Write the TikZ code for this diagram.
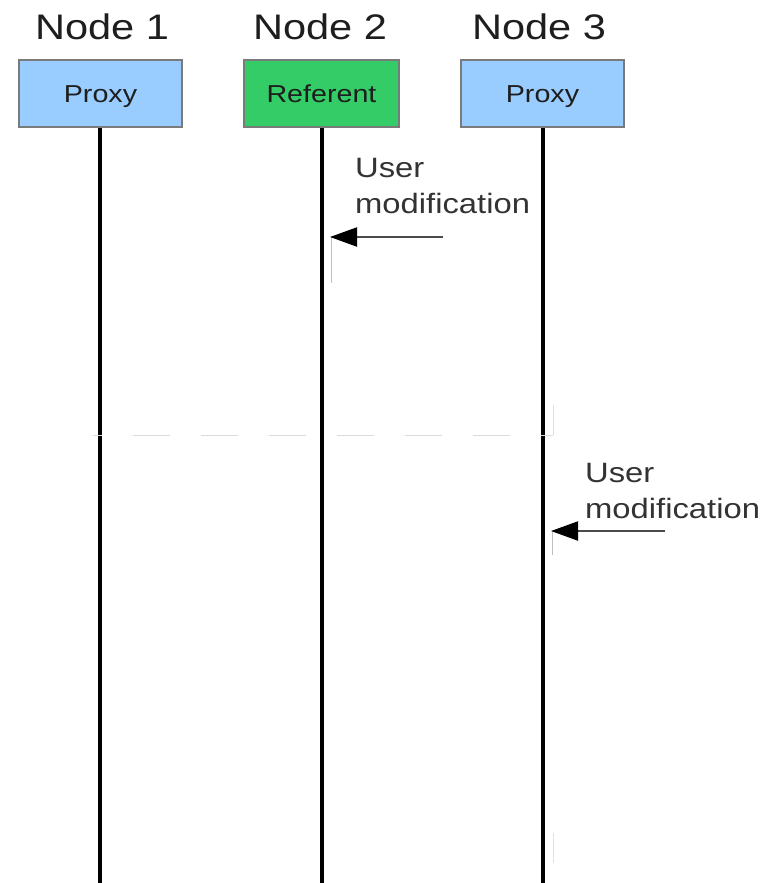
\documentclass[tikz,border=0pt]{standalone}
\usepackage{fontspec}
\setmainfont{Liberation Sans}[FakeStretch=1.17]
\usetikzlibrary{arrows.meta}
\definecolor{proxyblue}{HTML}{99CCFF}
\definecolor{refgreen}{HTML}{33CC66}
\definecolor{boxedge}{HTML}{7A7A7A}
\definecolor{txt}{HTML}{1E1E1E}
\begin{document}
\begin{tikzpicture}[x=1pt,y=-1pt,
  title/.style={font=\fontsize{35.5}{40}\selectfont, text=txt, anchor=base, inner sep=0pt},
  box/.style={draw=boxedge, line width=1.8pt, minimum height=67pt, inner sep=0pt,
              text height=22pt, text depth=5pt,
              font=\fontsize{24.5}{28}\selectfont, text=txt},
  life/.style={line width=3.6pt, black},
  msg/.style={line width=2pt, draw=black!70, -{Triangle[length=27pt,width=19pt,color=black,fill=black]}},
  lbl/.style={font=\fontsize{28}{36}\selectfont, text=black!80, anchor=base west, align=left, inner sep=0pt},
  faint/.style={line width=1pt, black!12}]
\useasboundingbox (0,0) rectangle (766,883);
\node[title] (t1) at (102,40) {Node 1};
\node[title] (t2) at (320,40) {Node 2};
\node[title] (t3) at (539,40) {Node 3};
\node[box, fill=proxyblue, minimum width=163pt] (b1) at (100.5,93.5) {Proxy};
\node[box, fill=refgreen, minimum width=155pt] (b2) at (321.5,93.5) {Referent};
\node[box, fill=proxyblue, minimum width=163pt] (b3) at (542.5,93.5) {Proxy};
\coordinate (e1) at (100,883);
\coordinate (e2) at (322,883);
\coordinate (e3) at (543,883);
\draw[life] (b1.south -| e1) -- (e1);
\draw[life] (b2.south -| e2) -- (e2);
\draw[life] (b3.south -| e3) -- (e3);
% faint traces
\coordinate (d1) at (93,435);
\coordinate (d2) at (553,435);
\draw[faint, black!14, dash pattern=on 37pt off 31pt, dash phase=28pt] (d1) -- (d2);
\coordinate (f1) at (553,405);
\draw[faint] (f1) -- (d2);
\coordinate (g1) at (331,237);
\coordinate (g2) at (331,283);
\draw[faint, black!25] (g1) -- (g2);
\coordinate (h1) at (552,531);
\coordinate (h2) at (552,555);
\draw[faint, black!25] (h1) -- (h2);
\coordinate (k1) at (553,833);
\coordinate (k2) at (553,863);
\draw[faint] (k1) -- (k2);
% messages
\coordinate (m1s) at (443,237);
\coordinate (m1e) at (330,237);
\draw[msg] (m1s) -- (m1e);
\node[lbl] (l1) at (355,213) {User\\modification};
\coordinate (m2s) at (665,531);
\coordinate (m2e) at (551,531);
\draw[msg] (m2s) -- (m2e);
\node[lbl] (l2) at (585,518) {User\\modification};
\end{tikzpicture}
\end{document}
